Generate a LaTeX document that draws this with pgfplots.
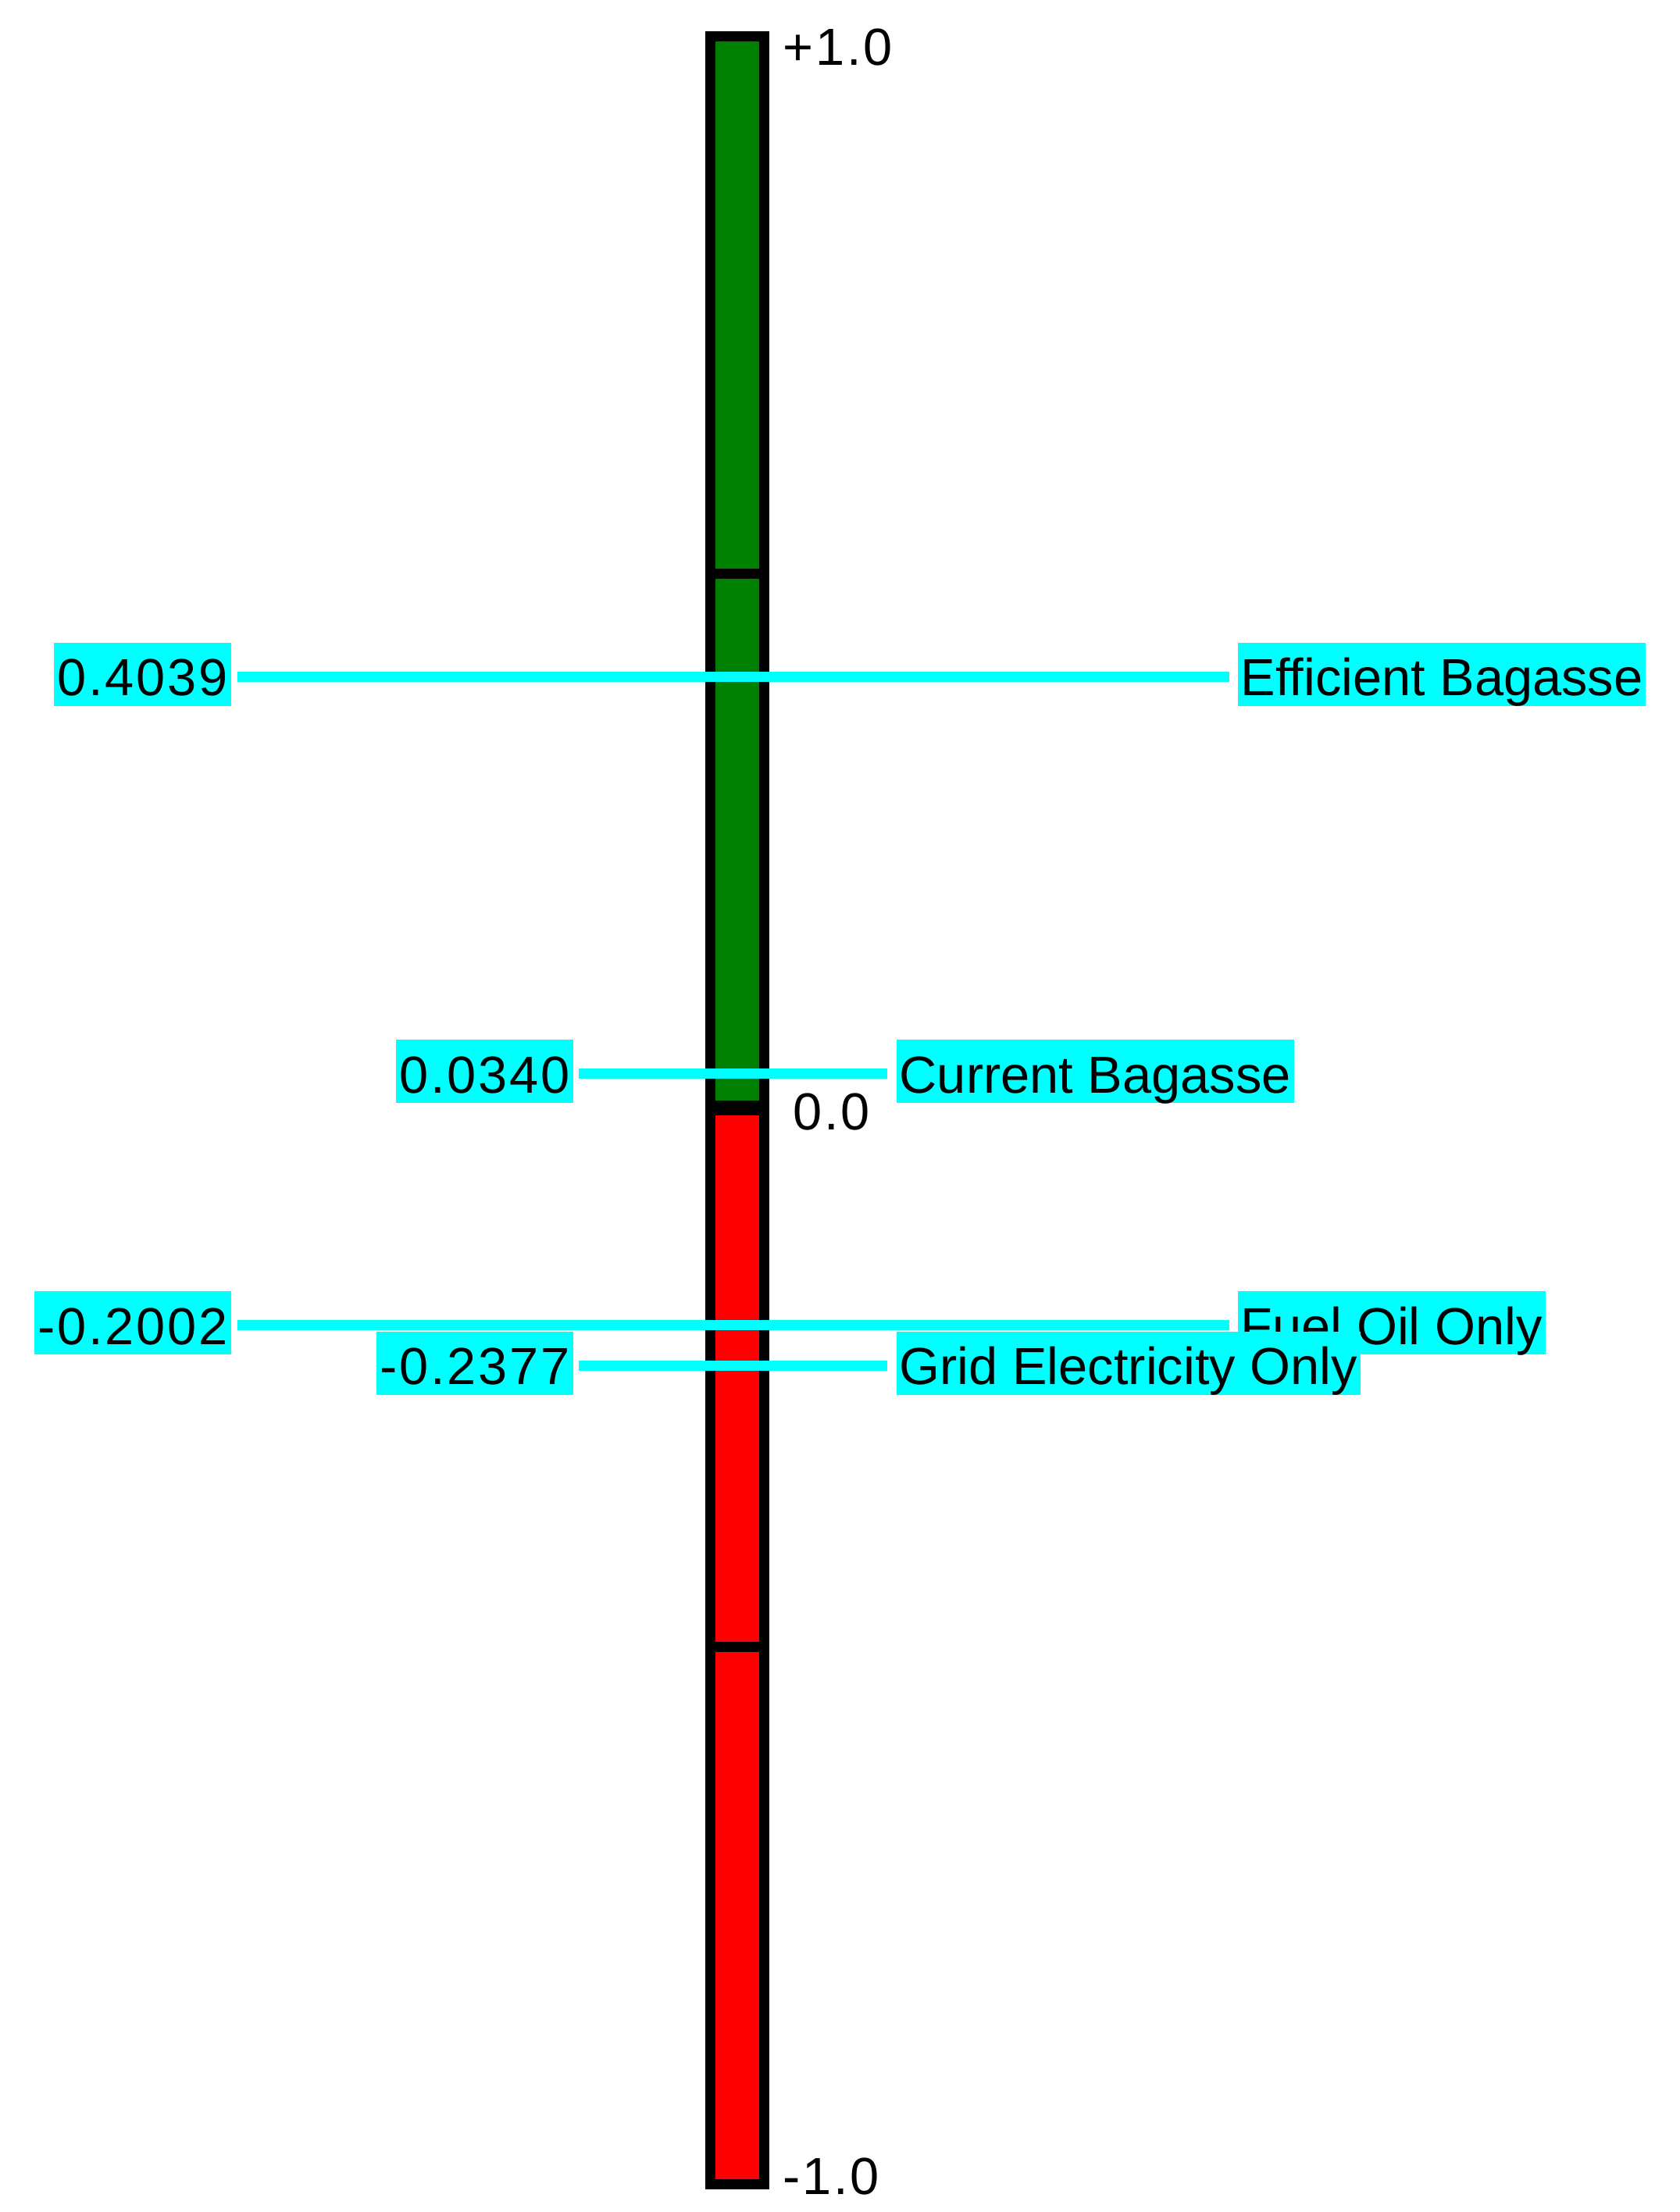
\documentclass[border=0pt]{standalone}
\usepackage{fontspec}
\setmainfont{Liberation Sans}
\newfontfamily\numfont[LetterSpace=4]{Liberation Sans}
\usepackage{pgfplots}
\pgfplotsset{compat=1.18}
\definecolor{barG}{RGB}{0,128,0}
\definecolor{barR}{RGB}{255,0,0}
\definecolor{lab}{RGB}{0,255,255}
\newcommand{\labfont}{\fontsize{19pt}{22pt}\selectfont}
\newcommand{\nlabfont}{\numfont\fontsize{19pt}{22pt}\selectfont}
\tikzset{
  vlab/.style={font=\nlabfont,text=black,fill=lab,inner xsep=0.5mm,inner ysep=0pt,text height=6.8mm,text depth=1.3mm,anchor=base east,yshift=-2.45mm},
  nlab/.style={font=\labfont,text=black,fill=lab,inner xsep=0.4mm,inner ysep=0pt,text height=6.8mm,text depth=1.3mm,anchor=base west,yshift=-2.45mm},
  tlab/.style={font=\nlabfont,text=black,inner sep=0pt,anchor=base west}}
\begin{document}
\begin{tikzpicture}
\begin{axis}[width=21.5cm,height=28.32cm,scale only axis,
  xmin=0,xmax=2150,ymin=-1.02619,ymax=1.03419,
  hide axis,clip=false]
% frame for bounding box
\addplot[draw=none,forget plot] coordinates {(0,-1.02619) (2150,1.03419)};
% bar segments
\addplot[fill=barG,draw=black,line width=1.3mm,line join=miter] coordinates {(909.5,0.5) (978.5,0.5) (978.5,1) (909.5,1)} -- cycle;
\addplot[fill=barG,draw=black,line width=1.3mm,line join=miter] coordinates {(909.5,0.0047) (978.5,0.0047) (978.5,0.5) (909.5,0.5)} -- cycle;
\addplot[fill=barR,draw=black,line width=1.3mm,line join=miter] coordinates {(909.5,-0.5) (978.5,-0.5) (978.5,0) (909.5,0)} -- cycle;
\addplot[fill=barR,draw=black,line width=1.3mm,line join=miter] coordinates {(909.5,-1) (978.5,-1) (978.5,-0.5) (909.5,-0.5)} -- cycle;
% scale labels
\node[tlab] at (axis cs:1002,0.97308) {+1.0};
\node[tlab] at (axis cs:1015,-0.01855) {0.0};
\node[tlab] at (axis cs:1002,-1.00946) {-1.0};
% Efficient Bagasse
\addplot[lab,line width=1.3mm] coordinates {(304,0.4039) (1574,0.4039)};
\node[vlab] at (axis cs:297,0.4039) {0.4039};
\node[nlab] at (axis cs:1584,0.4039) {Efficient Bagasse};
% Current Bagasse
\addplot[lab,line width=1.3mm] coordinates {(741,0.0340) (1136,0.0340)};
\node[vlab] at (axis cs:735,0.0340) {0.0340};
\node[nlab] at (axis cs:1147,0.0340) {Current Bagasse};
% Fuel Oil Only
\addplot[lab,line width=1.3mm] coordinates {(304,-0.2002) (1574,-0.2002)};
\node[vlab] at (axis cs:297,-0.2002) {-0.2002};
\node[nlab] at (axis cs:1584,-0.2002) {Fuel Oil Only};
% Grid Electricity Only
\addplot[lab,line width=1.3mm] coordinates {(741,-0.2377) (1136,-0.2377)};
\node[vlab] at (axis cs:735,-0.2377) {-0.2377};
\node[nlab] at (axis cs:1147,-0.2377) {Grid Electricity Only};
\end{axis}
\end{tikzpicture}
\end{document}
